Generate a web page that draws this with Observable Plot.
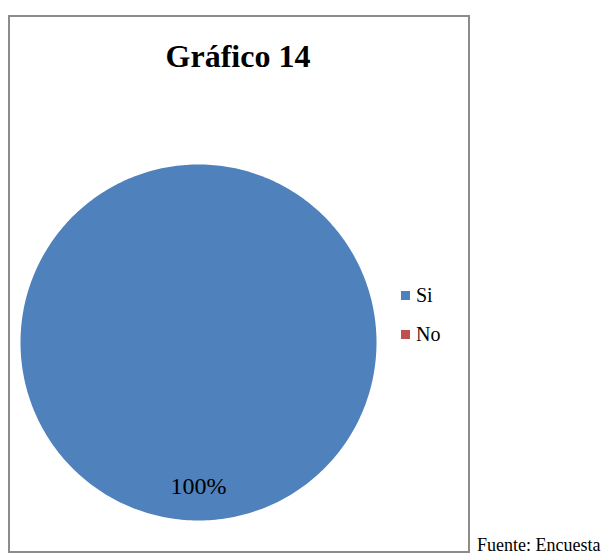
<!DOCTYPE html>
<html>
<head>
<meta charset="utf-8">
<script src="https://cdn.jsdelivr.net/npm/d3@7"></script>
<script src="https://cdn.jsdelivr.net/npm/@observablehq/plot@0.6"></script>
<style>
  html, body { margin: 0; padding: 0; background: #fff; }
  #wrap { position: relative; width: 607px; height: 554px; font-family: "Liberation Serif", "Times New Roman", serif; color: #000; }
  #wrap svg { position: absolute; left: 0; top: 0; }
  .abs { position: absolute; white-space: nowrap; }
  #frame { position: absolute; left: 8px; top: 15px; width: 458px; height: 534px; border: 2px solid #8c8c8c; box-sizing: content-box; }
</style>
</head>
<body>
<div id="wrap"></div>
<script>
const title = "Gráfico 14";
const categories = ["Si", "No"];
const values = [100, 0];
const colors = ["#4F81BD", "#C0504D"];
const source = "Fuente: Encuesta";

const total = d3.sum(values);
const pie = d3.pie().sort(null).value(d => d.value)
  .startAngle(0).endAngle(2 * Math.PI);
const arcs = pie(categories.map((c, i) => ({cat: c, value: values[i]})));

// polygon vertices for each slice (computed from the data)
const pts = [];
for (const a of arcs) {
  if (a.endAngle - a.startAngle <= 0) continue;
  const n = Math.max(2, Math.ceil((a.endAngle - a.startAngle) / (Math.PI / 180)));
  const full = a.endAngle - a.startAngle >= 2 * Math.PI - 1e-9;
  if (!full) pts.push({cat: a.data.cat, x: 0, y: 0});
  for (let k = 0; k <= n; k++) {
    const t = a.startAngle + (a.endAngle - a.startAngle) * k / n;
    pts.push({cat: a.data.cat, x: Math.sin(t), y: Math.cos(t)});
  }
}
const labels = arcs.filter(a => a.data.value > 0).map(a => {
  const m = (a.startAngle + a.endAngle) / 2;
  const r = 0.8;
  return {x: Math.sin(m) * r, y: Math.cos(m) * r, text: Math.round(a.data.value / total * 100) + "%"};
});

const plot = Plot.plot({
  width: 607,
  height: 554,
  marginLeft: 20,
  marginRight: 231,
  marginTop: 164,
  marginBottom: 34,
  x: {domain: [-1, 1], axis: null},
  y: {domain: [-1, 1], axis: null},
  color: {domain: categories, range: colors},
  style: {background: "transparent", fontFamily: "Liberation Serif, serif"},
  marks: [
    Plot.line(pts, {x: "x", y: "y", z: "cat", fill: "cat", stroke: null, curve: "linear-closed"}),
    Plot.text(labels, {x: "x", y: "y", text: "text", fontSize: 24, fill: "#000", dy: 1})
  ]
});

const wrap = document.getElementById("wrap");
wrap.appendChild(plot);

const frame = document.createElement("div");
frame.id = "frame";
wrap.appendChild(frame);

const t = document.createElement("div");
t.className = "abs";
t.textContent = title;
Object.assign(t.style, {left: "8px", width: "460px", textAlign: "center", top: "38px", fontSize: "32px", fontWeight: "bold", lineHeight: "36px"});
wrap.appendChild(t);

const color = plot.scale("color");
categories.forEach((c, i) => {
  const sq = document.createElement("div");
  sq.className = "abs";
  Object.assign(sq.style, {left: "401px", top: (291 + i * 39) + "px", width: "9px", height: "9px", background: color.range[i]});
  wrap.appendChild(sq);
  const lb = document.createElement("div");
  lb.className = "abs";
  lb.textContent = c;
  Object.assign(lb.style, {left: "416px", top: (283 + i * 39) + "px", fontSize: "20px", lineHeight: "24px"});
  wrap.appendChild(lb);
});

const s = document.createElement("div");
s.className = "abs";
s.textContent = source;
Object.assign(s.style, {left: "477px", top: "535px", fontSize: "18px", lineHeight: "20px"});
wrap.appendChild(s);
</script>
</body>
</html>
